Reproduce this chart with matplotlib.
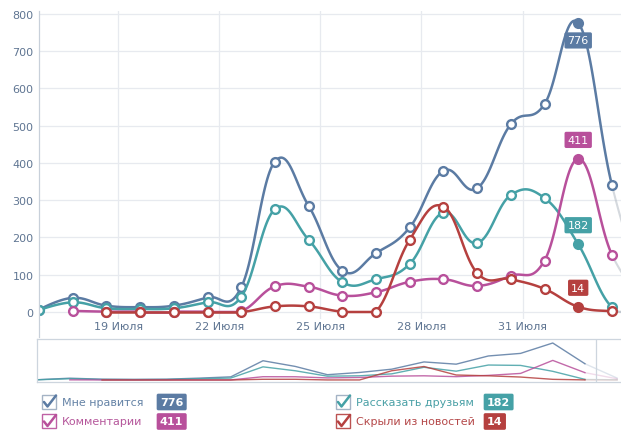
import numpy as np
import matplotlib
matplotlib.use("Agg")
import matplotlib.pyplot as plt
from matplotlib.patches import Rectangle
from matplotlib.transforms import Bbox, TransformedBbox

# ---------------- data ----------------
days = list(range(17, 36))          # day-of-July of each point (32 = 1 Aug ...)
day_shift = -0.35                   # points sit slightly before midnight ticks
likes    = [6, 38, 17, 13, 17, 39, 66, 404, 285, 111, 158, 227, 379, 332, 504, 558, 776, 341, 40]
shares   = [5, 26, 10, 8, 10, 26, 41, 276, 194, 80, 88, 129, 267, 185, 314, 306, 182, 13, 3]
comments = [np.nan, 3, 1, 1, 1, 1, 2, 69, 68, 44, 53, 81, 88, 70, 97, 138, 411, 154, 25]
hidden   = [np.nan, np.nan, 0, 0, 0, 0, 0, 15, 15, 1, 1, 194, 283, 105, 88, 62, 14, 2, 0]

series_names = ["Мне нравится", "Рассказать друзьям", "Комментарии", "Скрыли из новостей"]
series_vals = [likes, shares, comments, hidden]
colors = ["#5b7ba3", "#45a1a6", "#b8509b", "#b5403f"]
text_colors = ["#6583a6", "#4aa0a6", "#b5579b", "#b5494a"]
highlight_idx = 16
last_visible_idx = 17

tick_days = [19, 22, 25, 28, 31]
tick_labels = ["19 Июля", "22 Июля", "25 Июля", "28 Июля", "31 Июля"]
y_ticks = list(range(0, 801, 100))

# ---------------- helpers ----------------
def hc_spline(x, y, n=30):
    """Highcharts-style spline (smoothing 1.5, no overshoot clamp), floored at 0."""
    pts = [(xi, yi) for xi, yi in zip(x, y)]
    N = len(pts)
    lc = [None] * N
    rc = [None] * N
    for i in range(N):
        px, py = pts[i]
        if 0 < i < N - 1:
            lx, ly = pts[i - 1]
            nx, ny = pts[i + 1]
            lcx = (1.5 * px + lx) / 2.5
            lcy = (1.5 * py + ly) / 2.5
            rcx = (1.5 * px + nx) / 2.5
            rcy = (1.5 * py + ny) / 2.5
            if rcx != lcx:
                corr = ((rcy - lcy) * (rcx - px)) / (rcx - lcx) + py - rcy
                lcy += corr
                rcy += corr
            lc[i] = (lcx, lcy); rc[i] = (rcx, rcy)
        else:
            lc[i] = (px, py); rc[i] = (px, py)
    segs = []
    t = np.linspace(0, 1, n)[:, None]
    for i in range(1, N):
        P0 = np.array(pts[i - 1]); P1 = np.array(rc[i - 1])
        P2 = np.array(lc[i]); P3 = np.array(pts[i])
        B = ((1 - t) ** 3) * P0 + 3 * ((1 - t) ** 2) * t * P1 + 3 * (1 - t) * t ** 2 * P2 + t ** 3 * P3
        B[:, 1] = np.maximum(B[:, 1], 0)
        segs.append(B)
    return segs

W, H = 621, 431
def fx(px): return px / W
def fy(py): return 1 - py / H

plt.rcParams["font.family"] = ["DejaVu Sans"]
fig = plt.figure(figsize=(W / 100, H / 100), dpi=100)
fig.patch.set_facecolor("white")

# ---------------- main chart ----------------
XMIN, XMAX = 16.65, 33.92
ax = fig.add_axes([fx(39), fy(320), fx(621) - fx(39), fy(12) - fy(320)])
ax.set_xlim(XMIN, XMAX)
ax.set_ylim(-18.8, 808.05)
for s in ax.spines.values():
    s.set_visible(False)
ax.set_yticks(y_ticks)
ax.set_yticklabels([str(v) for v in y_ticks])
ax.set_xticks(tick_days)
ax.set_xticklabels(tick_labels)
ax.tick_params(axis="both", length=0, labelsize=8, labelcolor="#5f7592")
ax.tick_params(axis="y", pad=4)
ax.tick_params(axis="x", pad=1.5)
for v in y_ticks:
    ax.axhline(v, color="#e7eaef", lw=0.9, zorder=0)
for d in tick_days:
    ax.axvline(d, color="#e7eaef", lw=0.9, zorder=0)

marker_clip = TransformedBbox(Bbox([[XMIN, -100], [XMAX + 5, 1000]]), ax.transData)

xs = np.array(days, dtype=float) + day_shift
for k, (vals, col) in enumerate(zip(series_vals, colors)):
    vals = np.array(vals, dtype=float)
    valid = ~np.isnan(vals)
    idx = np.where(valid)[0]
    segs = hc_spline(xs[idx], vals[idx])
    z = 2 + k
    for j, seg in enumerate(segs):
        end_i = idx[j + 1]
        if end_i <= last_visible_idx:
            ax.plot(seg[:, 0], seg[:, 1], color=col, lw=1.8, zorder=z,
                    solid_capstyle="round")
        else:
            ax.plot(seg[:, 0], seg[:, 1], color="#b9c0c8", lw=1.5, alpha=0.6, zorder=z)
    for i in idx:
        if i > last_visible_idx:
            continue
        fc = col if i == highlight_idx else "white"
        mk, = ax.plot(xs[i], vals[i], "o", ms=6.3, mfc=fc, mec=col, mew=1.7, zorder=z + 0.5)
        mk.set_clip_box(marker_clip)
    hv = vals[highlight_idx]
    off = -17.5 if k == 0 else 19
    ax.annotate(f"{int(hv)}", (xs[highlight_idx], hv), xytext=(0, off),
                textcoords="offset pixels", ha="center", va="center",
                fontsize=8, color="white",
                bbox=dict(boxstyle="round,pad=0.28,rounding_size=0.15", fc=col, ec="none"),
                zorder=20, annotation_clip=False)

# ---------------- navigator ----------------
nax = fig.add_axes([fx(37), fy(383), fx(621) - fx(37), fy(340) - fy(383)])
nax.set_xlim(16.63, 34.77)
nax.set_ylim(-42, 860)
nax.set_xticks([]); nax.set_yticks([])
for name, s in nax.spines.items():
    if name == "right":
        s.set_visible(False)
    else:
        s.set_color("#cdd5de"); s.set_linewidth(0.9)
sel_end = 34.0
for vals, col in zip(series_vals, colors):
    vals = np.array(vals, dtype=float)
    m = xs <= xs[last_visible_idx] + 1e-9
    nax.plot(xs[m], vals[m], color=col, lw=1.0, alpha=0.85)
    mm = xs >= xs[last_visible_idx] - 1e-9
    nax.plot(xs[mm], vals[mm], color=col, lw=1.0, alpha=0.2)
nax.axvline(sel_end, color="#cdd5de", lw=0.9)

# ---------------- overlay: axis line + legend ----------------
oax = fig.add_axes([0, 0, 1, 1], zorder=10)
oax.set_xlim(0, W); oax.set_ylim(H, 0)
oax.axis("off")
oax.patch.set_alpha(0)
oax.plot([39, 39], [12, 338], color="#c8d0da", lw=0.9)

legend_pos = [(41.5, 403), (335.5, 403), (41.5, 422.5), (335.5, 422.5)]
badge_x = [157, 484, 157, 484]
for k in range(4):
    x0, yc = legend_pos[k]
    col = colors[k]
    box = Rectangle((x0, yc - 7), 14, 14, fill=False, ec="#9aabbf" if k < 2 else col,
                    lw=1.0, alpha=0.9)
    oax.add_patch(box)
    oax.plot([x0 + 2.5, x0 + 6, x0 + 14.5], [yc, yc + 4.5, yc - 6.5], color=col, lw=1.8,
             solid_capstyle="round", solid_joinstyle="round")
    oax.text(x0 + 20, yc, series_names[k], fontsize=8, color=text_colors[k],
             ha="left", va="center")
    vtxt = str(int(series_vals[k][highlight_idx]))
    oax.text(badge_x[k] + 3, yc, vtxt, fontsize=8, color="white", ha="left", va="center",
             fontweight="bold",
             bbox=dict(boxstyle="round,pad=0.3,rounding_size=0.15", fc=col, ec="none"))

fig.savefig("out.png", dpi=100, facecolor="white")
